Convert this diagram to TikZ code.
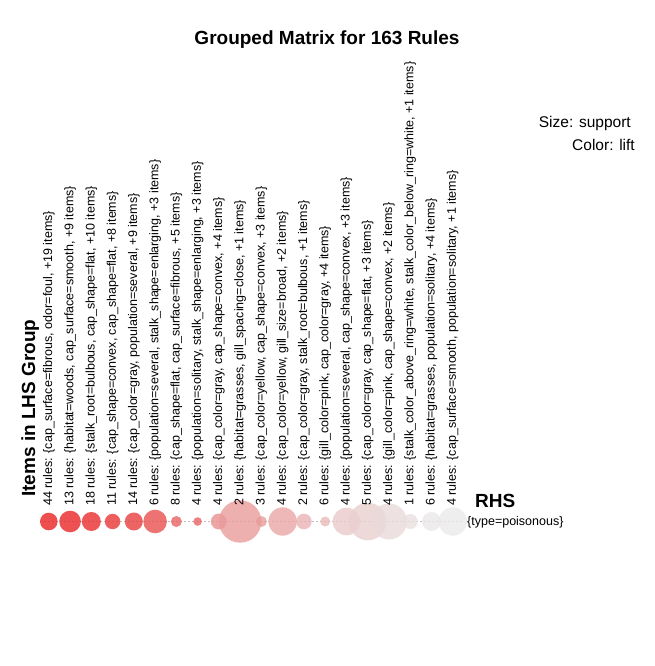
\documentclass[tikz,border=0pt]{standalone}
\usepackage{fontspec}
\setmainfont{Liberation Sans}
\definecolor{bubred}{RGB}{233,36,36}
\definecolor{bubgray}{RGB}{234,234,234}
\definecolor{rowline}{RGB}{190,190,190}
\begin{document}
\begin{tikzpicture}[x=1pt,y=-1pt,
  lab/.style={rotate=90,anchor=west,inner sep=0pt,font=\fontsize{12.5}{14}\selectfont},
  bub/.style={circle,inner sep=0pt,outer sep=0pt,draw=none,fill opacity=0.8},
  bigtxt/.style={font=\bfseries\fontsize{19}{22}\selectfont,inner sep=0pt},
  legtxt/.style={font=\fontsize{15.5}{18}\selectfont,inner sep=0pt,anchor=base east},
]
\useasboundingbox[fill=white] (0,0) rectangle (655,666);
\node[bigtxt,anchor=base] (title) at (327,45) {Grouped Matrix for 163 Rules};
\node[legtxt] (size) at (631,127.7) {Size: support};
\node[legtxt] (color) at (635,150) {Color: lift};
\node[bigtxt,rotate=90,anchor=base west] (ylab) at (35,497) {Items in LHS Group};
\node[bigtxt,anchor=base west] (rhs) at (475,507.5) {RHS};
\node[anchor=base west,inner sep=0pt,font=\fontsize{12.5}{14}\selectfont] (rhsitem) at (467,525.5) {\{type=poisonous\}};
\coordinate (rowL) at (40,521.5);
\coordinate (rowR) at (462,521.5);
\draw[rowline,line width=0.5pt,dash pattern=on 1.5pt off 2.5pt] (rowL) -- (rowR);
\foreach \i/\r/\t/\txt in {
 1/8.8/0/{44 rules: \{cap\_surface=fibrous, odor=foul, +19 items\}},
 2/10.8/1/{13 rules: \{habitat=woods, cap\_surface=smooth, +9 items\}},
 3/9.5/5/{18 rules: \{stalk\_root=bulbous, cap\_shape=flat, +10 items\}},
 4/7.7/10/{11 rules: \{cap\_shape=convex, cap\_shape=flat, +8 items\}},
 5/9/13/{14 rules: \{cap\_color=gray, population=several, +9 items\}},
 6/11.8/22/{6 rules: \{population=several, stalk\_shape=enlarging, +3 items\}},
 7/5.5/32/{8 rules: \{cap\_shape=flat, cap\_surface=fibrous, +5 items\}},
 8/4.3/32/{4 rules: \{population=solitary, stalk\_shape=enlarging, +3 items\}},
 9/8/54/{4 rules: \{cap\_color=gray, cap\_shape=convex, +4 items\}},
 10/21.2/60/{2 rules: \{habitat=grasses, gill\_spacing=close, +1 items\}},
 11/5.5/60/{3 rules: \{cap\_color=yellow, cap\_shape=convex, +3 items\}},
 12/14.2/66/{4 rules: \{cap\_color=yellow, gill\_size=broad, +2 items\}},
 13/7.8/72/{2 rules: \{cap\_color=gray, stalk\_root=bulbous, +1 items\}},
 14/5/76/{6 rules: \{gill\_color=pink, cap\_color=gray, +4 items\}},
 15/13.8/84/{4 rules: \{population=several, cap\_shape=convex, +3 items\}},
 16/18.8/87/{5 rules: \{cap\_color=gray, cap\_shape=flat, +3 items\}},
 17/18/92/{4 rules: \{gill\_color=pink, cap\_shape=convex, +2 items\}},
 18/7.5/95/{1 rules: \{stalk\_color\_above\_ring=white, stalk\_color\_below\_ring=white, +1 items\}},
 19/9.5/99/{6 rules: \{habitat=grasses, population=solitary, +4 items\}},
 20/14.2/100/{4 rules: \{cap\_surface=smooth, population=solitary, +1 items\}}}
{
  \pgfmathsetmacro{\cx}{48.8+(\i-1)*21.26}
  \node[bub,minimum size=2*\r pt,fill=bubgray!\t!bubred] (c\i) at (\cx,521.5) {};
  \node[lab] (l\i) at (\cx,506) {\txt};
}
\end{tikzpicture}
\end{document}
